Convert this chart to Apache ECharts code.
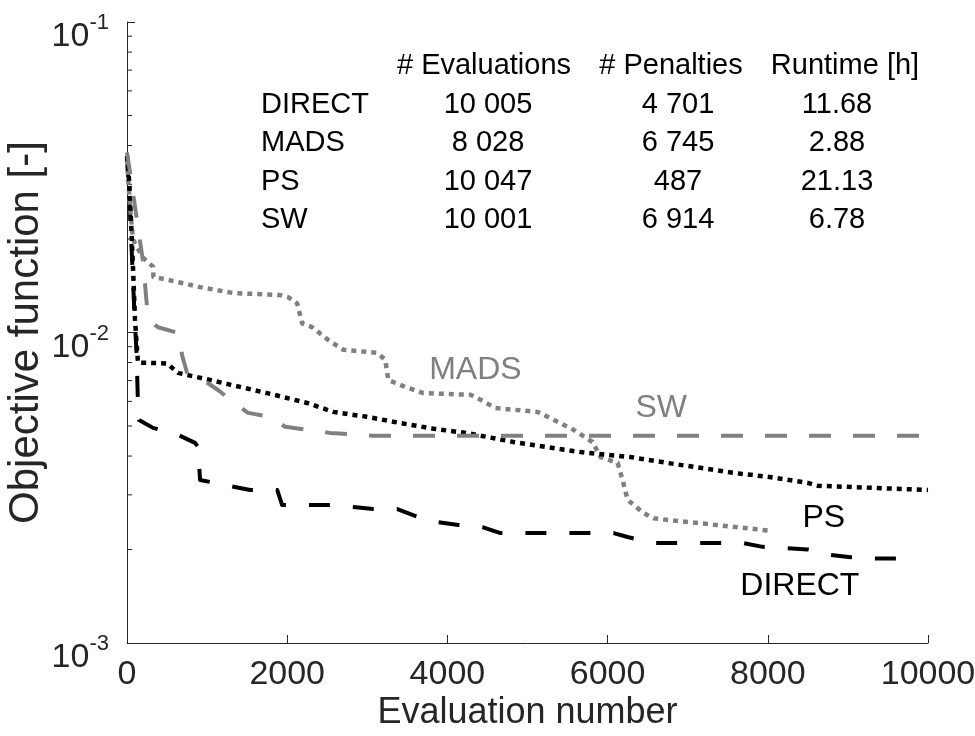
<!DOCTYPE html>
<html><head><meta charset="utf-8">
<script src="https://cdn.jsdelivr.net/npm/echarts@6/dist/echarts.min.js"></script>
<style>html,body{margin:0;padding:0;background:#fff}#c{width:975px;height:736px}</style>
</head><body><div id="c"></div>
<script>
// ---- data ----
const directX = [0, 30, 60, 90, 120, 140, 150, 325, 637, 850, 887, 912, 1537, 1875, 1937, 2537, 2825, 3075, 3375, 3625, 3887, 4137, 4437, 4662, 6075, 6262, 6562, 7387, 7687, 7937, 8225, 8500, 8787, 9037, 9325, 9600];
const directY = [0.037, 0.027, 0.018, 0.012, 0.0085, 0.0055, 0.00523, 0.00493, 0.00468, 0.00441, 0.00428, 0.00335, 0.00311, 0.00311, 0.00278, 0.00278, 0.00274, 0.0027, 0.0027, 0.00255, 0.00245, 0.0024, 0.00236, 0.00226, 0.00226, 0.00219, 0.0021, 0.0021, 0.0021, 0.00204, 0.00202, 0.002, 0.00192, 0.00189, 0.00187, 0.00187];

const madsX = [0, 40, 75, 200, 325, 330, 500, 912, 1325, 1912, 2012, 2125, 2187, 2312, 2512, 2700, 3125, 3225, 3262, 3475, 3700, 4287, 4375, 4600, 5125, 5250, 5575, 5812, 5912, 6125, 6187, 6250, 6450, 6575, 8028];
const madsY = [0.036, 0.025, 0.0199, 0.0174, 0.0163, 0.0151, 0.0148, 0.0140, 0.0134, 0.0132, 0.0130, 0.0124, 0.0107, 0.0104, 0.00946, 0.0088, 0.0086, 0.00816, 0.00703, 0.00668, 0.00638, 0.0063, 0.00615, 0.00571, 0.00555, 0.00535, 0.00486, 0.00444, 0.00397, 0.0038, 0.00335, 0.00289, 0.00262, 0.00252, 0.0023];

const psX = [0, 30, 60, 80, 100, 120, 137, 500, 637, 1037, 1750, 2250, 2575, 3000, 3412, 3825, 4250, 4825, 5662, 6287, 6750, 7575, 8000, 8500, 8625, 10000];
const psY = [0.037, 0.03, 0.02, 0.015, 0.011, 0.0092, 0.0080, 0.00795, 0.00741, 0.00703, 0.00638, 0.00593, 0.00555, 0.00535, 0.00511, 0.00490, 0.00474, 0.00444, 0.00412, 0.00397, 0.0038, 0.00353, 0.00343, 0.00328, 0.00321, 0.00311];

const swX = [0, 60, 120, 200, 250, 300, 387, 637, 660, 687, 750, 950, 1137, 1325, 1512, 1787, 1975, 2262, 2537, 2812, 3075, 10001];
const swY = [0.038, 0.03, 0.0234, 0.0169, 0.0121, 0.0108, 0.0104, 0.00996, 0.0095, 0.00846, 0.00741, 0.00703, 0.00653, 0.00597, 0.00551, 0.00535, 0.00497, 0.00486, 0.00475, 0.0047, 0.00465, 0.00465];

const seriesNames = ['DIRECT', 'MADS', 'PS', 'SW'];
const labelX = [8400, 4350, 8700, 6670];
const labelY = [0.00152, 0.00757, 0.00253, 0.0057];

const xTicks = [0, 2000, 4000, 6000, 8000, 10000];
const yMinorTicks = [0.002, 0.003, 0.004, 0.005, 0.006, 0.007, 0.008, 0.009, 0.02, 0.03, 0.04, 0.05, 0.06, 0.07, 0.08, 0.09];

const tableHeader = ['# Evaluations', '# Penalties', 'Runtime [h]'];
const tableRows = ['DIRECT', 'MADS', 'PS', 'SW'];
const tableEvals = ['10 005', '8 028', '10 047', '10 001'];
const tablePenalties = ['4 701', '6 745', '487', '6 914'];
const tableRuntime = ['11.68', '2.88', '21.13', '6.78'];

// ---- chart ----
const FONT = 'Liberation Sans';
const AX = '#262626';
const GRAY = '#808080';
const zip = (xs, ys) => xs.map((x, i) => [x, ys[i]]);

function lineSeries(name, xs, ys, color, dash, width, li) {
  return {
    name, type: 'line', data: zip(xs, ys), symbol: 'none', clip: true,
    lineStyle: { color, width, type: dash, cap: 'butt', join: 'round' },
    markPoint: {
      symbol: 'circle', symbolSize: 0, silent: true,
      data: [{ coord: [labelX[li], labelY[li]], label: { show: true, formatter: name, position: 'inside', color: color === GRAY ? GRAY : '#000', fontSize: 32, fontFamily: FONT } }]
    }
  };
}

const chart = echarts.init(document.getElementById('c'), null, { renderer: 'canvas' });

const graphics = [];
const colX = [484, 671, 845];
const valX = [488, 678, 837];
const row0 = 66, rowStep = 38.5;
const tfont = '29px "' + FONT + '"';
tableHeader.forEach((t, i) => graphics.push({ type: 'text', x: colX[i], y: row0, style: { text: t, font: tfont, fill: '#000', textAlign: 'center', textVerticalAlign: 'middle' } }));
tableRows.forEach((r, j) => {
  const y = row0 + rowStep * (j + 1);
  graphics.push({ type: 'text', x: 261, y, style: { text: r, font: tfont, fill: '#000', textAlign: 'left', textVerticalAlign: 'middle' } });
  [tableEvals[j], tablePenalties[j], tableRuntime[j]].forEach((v, i) => graphics.push({ type: 'text', x: valX[i], y, style: { text: v, font: tfont, fill: '#000', textAlign: 'center', textVerticalAlign: 'middle' } }));
});

chart.setOption({
  animation: false,
  backgroundColor: '#fff',
  grid: { left: 127, right: 47, top: 22, bottom: 93, containLabel: false, outerBoundsMode: 'none' },
  xAxis: {
    type: 'value', min: xTicks[0], max: xTicks[xTicks.length - 1], interval: 2000,
    name: 'Evaluation number', nameLocation: 'middle', nameGap: 52, nameMoveOverlap: false,
    nameTextStyle: { fontSize: 36, fontFamily: FONT, color: AX },
    axisLine: { show: true, lineStyle: { color: AX, width: 1 } },
    axisTick: { show: true, inside: true, length: 8, lineStyle: { color: AX } },
    axisLabel: { fontSize: 34, fontFamily: FONT, color: AX, margin: 15, showMaxLabel: true, showMinLabel: true, formatter: v => String(v), hideOverlap: false },
    splitLine: { show: false }
  },
  yAxis: {
    type: 'log', logBase: 10, min: 0.001, max: 0.1,
    name: 'Objective function [-]', nameLocation: 'middle', nameGap: 80, nameRotate: 90, nameMoveOverlap: false,
    nameTextStyle: { fontSize: 42, fontFamily: FONT, color: AX },
    axisLine: { show: true, lineStyle: { color: AX, width: 1 } },
    axisTick: { show: true, inside: true, length: 8, lineStyle: { color: AX } },
    axisLabel: {
      margin: 18, color: AX, fontFamily: FONT, padding: [22, 0, 0, 0],
      formatter: v => '{b|10}{s|' + Math.round(Math.log10(v)) + '}',
      rich: {
        b: { fontSize: 34, fontFamily: FONT, color: AX, verticalAlign: 'bottom', lineHeight: 42 },
        s: { fontSize: 22, fontFamily: FONT, color: AX, verticalAlign: 'top', lineHeight: 42 }
      }
    },
    splitLine: { show: false }
  },
  graphic: graphics,
  series: [
    lineSeries('DIRECT', directX, directY, '#000', [21, 23], 4, 0),
    lineSeries('MADS', madsX, madsY, GRAY, [5, 5], 4.5, 1),
    lineSeries('PS', psX, psY, '#000', [5, 5], 4.5, 2),
    lineSeries('SW', swX, swY, GRAY, [22, 22], 4, 3),
    {
      type: 'custom', silent: true, data: yMinorTicks.map(v => [0, v]),
      encode: { x: 0, y: 1 },
      renderItem: (params, api) => {
        const p = api.coord([0, api.value(1)]);
        return { type: 'line', shape: { x1: p[0], y1: p[1], x2: p[0] + 5, y2: p[1] }, style: { stroke: AX, lineWidth: 1 } };
      }
    }
  ]
});
</script></body></html>
